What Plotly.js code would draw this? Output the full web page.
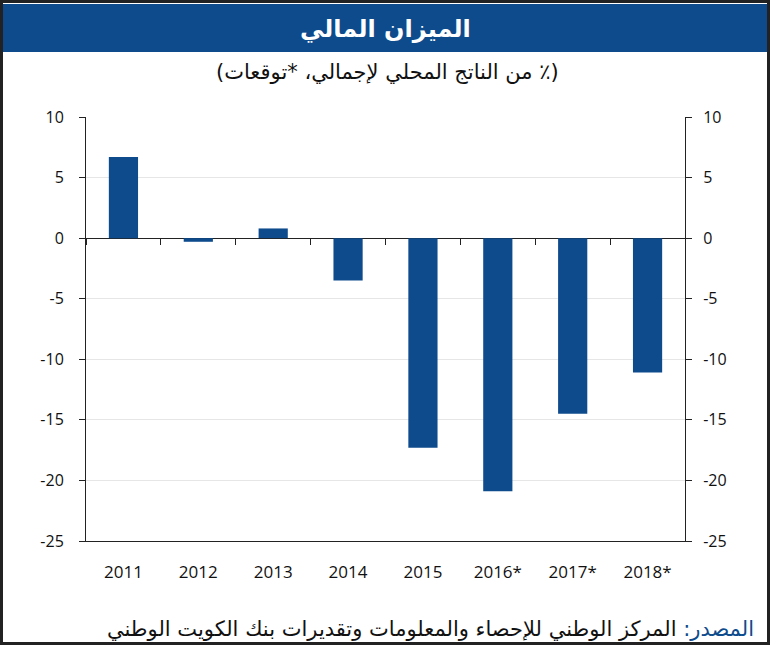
<!DOCTYPE html>
<html><head><meta charset="utf-8">
<script src="https://cdn.plot.ly/plotly-3.0.1.min.js"></script>
<style>html,body{margin:0;padding:0;background:#fff;}#c{width:770px;height:645px;}</style>
</head><body><div id="c"></div>
<script>
const years = ['2011','2012','2013','2014','2015','2016*','2017*','2018*'];
const balance = [6.7, -0.3, 0.8, -3.5, -17.3, -20.9, -14.5, -11.1];
const yTicks = [10, 5, 0, -5, -10, -15, -20, -25];
const titleText = 'الميزان المالي';
const subtitleText = '(٪ من الناتج المحلي لإجمالي، *توقعات)';
const sourceLabel = 'المصدر:';
const sourceText = ' المركز الوطني للإحصاء والمعلومات وتقديرات بنك الكويت الوطني';

const RLE = '\u202B', PDF = '\u202C';
const W = 770, H = 645;
const m = {l: 86, r: 85, t: 117, b: 104};
const pw = W - m.l - m.r, ph = H - m.t - m.b;
const px = x => (x - m.l) / pw;          // pixel -> paper x
const py = y => (H - m.b - y) / ph;      // pixel -> paper y
const blue = '#0e4b8d';
const tickFont = {family: 'Open Sans, Noto Sans, sans-serif', size: 16, color: '#111'};
const xFont = {family: 'Open Sans, Noto Sans, sans-serif', size: 17, color: '#111'};

const data = [
  {type: 'bar', x: years, y: balance, marker: {color: blue}, xaxis: 'x', yaxis: 'y', hoverinfo: 'x+y'},
  {type: 'bar', x: years, y: balance, marker: {color: 'rgba(0,0,0,0)'}, xaxis: 'x2', yaxis: 'y2', hoverinfo: 'skip', showlegend: false}
];

const layout = {
  width: W, height: H,
  margin: m,
  paper_bgcolor: '#fff', plot_bgcolor: '#fff',
  showlegend: false,
  bargap: 0.61,
  font: tickFont,
  xaxis: {
    type: 'category', categoryarray: years, showline: true, linecolor: '#222', linewidth: 1,
    ticks: '', showgrid: false, tickfont: xFont, ticklabelstandoff: 16, fixedrange: true, mirror: false
  },
  xaxis2: {
    type: 'category', categoryarray: years, overlaying: 'x', anchor: 'free', position: 25/35,
    showline: false, ticks: 'outside', tickson: 'boundaries', ticklen: 6, tickcolor: '#222', tickwidth: 1,
    showticklabels: false, showgrid: false, matches: 'x'
  },
  yaxis: {
    range: [-25, 10], tickvals: yTicks, ticktext: yTicks.map(String),
    showline: true, linecolor: '#222', linewidth: 1, ticks: 'outside', ticklen: 6, tickcolor: '#222',
    showgrid: true, gridcolor: '#e6e6e6', gridwidth: 1,
    zeroline: true, zerolinecolor: '#222', zerolinewidth: 1,
    tickfont: tickFont, ticklabelstandoff: 12, fixedrange: true
  },
  yaxis2: {
    range: [-25, 10], tickvals: yTicks, ticktext: yTicks.map(String), overlaying: 'y', side: 'right', anchor: 'x',
    showline: true, linecolor: '#222', linewidth: 1, ticks: 'outside', ticklen: 6, tickcolor: '#222',
    showgrid: false, zeroline: false, tickfont: tickFont, ticklabelstandoff: 8, fixedrange: true
  },
  shapes: [
    {type: 'rect', xref: 'paper', yref: 'paper', x0: px(3), x1: px(767), y0: py(4), y1: py(52),
     fillcolor: blue, line: {width: 0}, layer: 'below'},
    {type: 'rect', xref: 'paper', yref: 'paper', x0: px(1.5), x1: px(768.5), y0: py(1.5), y1: py(643.5),
     fillcolor: 'rgba(0,0,0,0)', line: {color: '#222', width: 3}}
  ],
  annotations: [
    {text: '<b>' + titleText + '</b>', xref: 'paper', yref: 'paper', x: px(385), y: py(29),
     xanchor: 'center', yanchor: 'middle', showarrow: false,
     font: {family: 'DejaVu Sans, sans-serif', size: 24, color: '#fff'}},
    {text: RLE + subtitleText + PDF, xref: 'paper', yref: 'paper', x: px(387), y: py(72),
     xanchor: 'center', yanchor: 'middle', showarrow: false,
     font: {family: 'DejaVu Sans, sans-serif', size: 21, color: '#111'}},
    {text: '<span style="color:' + blue + '">' + sourceLabel + '</span>' + sourceText,
     xref: 'paper', yref: 'paper', x: px(756), y: py(629),
     xanchor: 'right', yanchor: 'middle', showarrow: false,
     font: {family: 'DejaVu Sans, sans-serif', size: 21, color: '#111'}}
  ]
};

Plotly.newPlot('c', data, layout, {displayModeBar: false, staticPlot: true});
</script></body></html>
